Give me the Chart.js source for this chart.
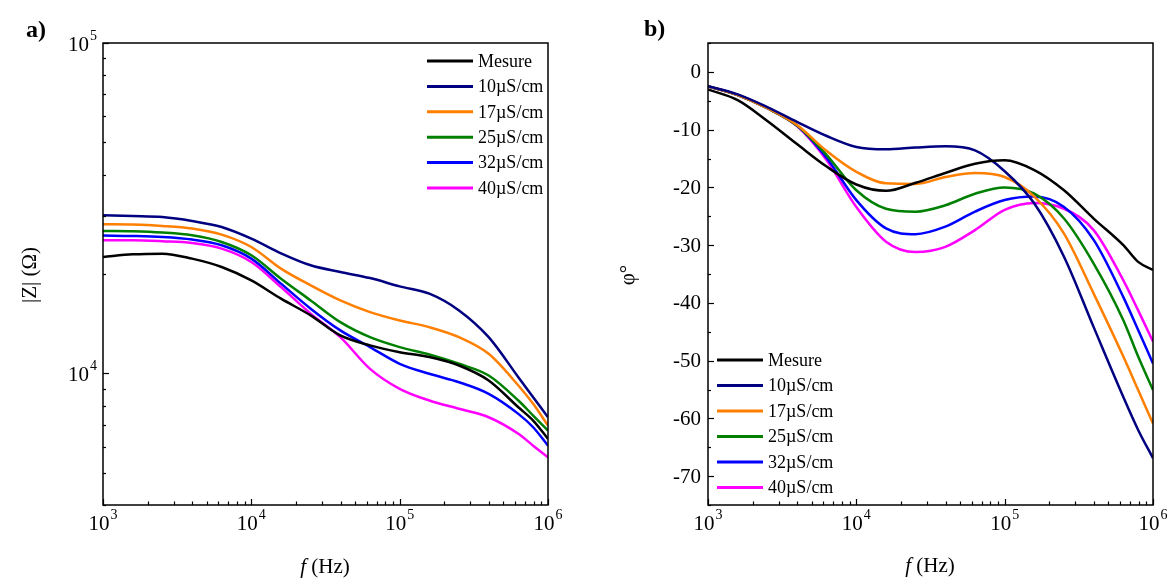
<!DOCTYPE html>
<html><head><meta charset="utf-8">
<script src="https://cdn.jsdelivr.net/npm/chart.js@4/dist/chart.umd.min.js"></script>
<style>
html,body{margin:0;padding:0;background:#fff;}
#wrap{position:relative;width:1168px;height:580px;background:#fff;}
canvas{position:absolute;top:0;}
</style></head><body>
<div id="wrap">
<canvas id="c1" width="584" height="580" style="left:0"></canvas>
<canvas id="c2" width="584" height="580" style="left:584px"></canvas>
</div>
<script>
// ---- data ----
const freq = [1000,1585,2512,3981,6310,10000,15850,25120,39810,63100,100000,158500,251200,398100,631000,794300,1000000];
const seriesLabels = ['Mesure','10µS/cm','17µS/cm','25µS/cm','32µS/cm','40µS/cm'];
const seriesColors = ['#000000','#000080','#ff7f00','#008000','#0000ff','#ff00ff'];

const zMesure = [22510,22940,23050,22260,21000,19130,16840,14990,13040,12160,11600,11210,10570,9524,7903,7204,6340];
const z10 = [30110,29960,29750,28940,27750,25590,23100,21250,20280,19440,18350,17440,15520,12880,9745,8476,7371];
const z17 = [28290,28230,27950,27450,26320,24140,20760,18480,16640,15340,14470,13810,12880,11470,9197,8094,6957];
const z25 = [26990,26930,26690,26190,25000,22790,19360,16640,14300,12880,12020,11420,10700,9861,8284,7459,6721];
const z32 = [26150,26070,25880,25420,24430,22260,18700,15710,13500,12020,10700,9979,9410,8679,7548,6875,6048];
const z40 = [25290,25290,25120,24820,23870,21750,18260,15170,12880,10330,8988,8284,7818,7371,6568,6048,5577];

const pMesure = [-3.05,-4.9,-8.5,-12.5,-16.4,-19.5,-20.6,-19.2,-17.5,-15.9,-15.3,-17.0,-20.5,-25.4,-30.0,-32.9,-34.3];
const p10 = [-2.48,-3.9,-6.1,-8.66,-11.1,-13.0,-13.4,-13.1,-12.9,-13.6,-17.2,-22.8,-32.0,-44.2,-56.3,-62.0,-66.9];
const p17 = [-2.48,-4.0,-6.3,-9.2,-13.7,-17.3,-19.3,-19.4,-18.2,-17.5,-18.2,-21.6,-28.0,-38.4,-49.3,-55.1,-60.9];
const p25 = [-2.48,-4.0,-6.3,-9.3,-14.4,-20.5,-23.7,-24.2,-23.1,-21.1,-20.0,-21.1,-25.4,-33.2,-43.0,-49.3,-55.1];
const p32 = [-2.48,-4.0,-6.3,-9.3,-14.9,-22.2,-27.1,-28.1,-26.8,-24.2,-22.2,-21.6,-23.4,-29.1,-39.0,-44.7,-50.5];
const p40 = [-2.48,-4.0,-6.3,-9.4,-15.3,-23.4,-29.4,-31.2,-30.3,-27.4,-23.9,-22.7,-23.7,-27.4,-36.1,-41.3,-46.7];

const xTickValues = [1e3,1e4,1e5,1e6];
const zTickValues = [1e4,1e5];
const phaseTickValues = [0,-10,-20,-30,-40,-50,-60,-70];
const phaseMinorStep = 5;

const FONT = '"Liberation Serif","DejaVu Serif",serif';

function mkDatasets(arrs){
  return arrs.map((arr,i)=>({
    label: seriesLabels[i],
    data: arr.map((v,j)=>({x:freq[j], y:v})),
    borderColor: seriesColors[i],
    backgroundColor: seriesColors[i],
    borderWidth: 2.5,
    pointRadius: 0,
    fill:false,
    cubicInterpolationMode:'monotone'
  }));
}

function drawPow(ctx, exp, x, y, align){
  ctx.font = '21px ' + FONT;
  const wb = ctx.measureText('10').width;
  ctx.font = '14px ' + FONT;
  const ws = ctx.measureText(String(exp)).width;
  const total = wb + ws + 1;
  let sx = align === 'center' ? x - total/2 : x - total;
  ctx.textAlign = 'left'; ctx.textBaseline = 'middle';
  ctx.font = '21px ' + FONT;
  ctx.fillText('10', sx, y);
  ctx.font = '14px ' + FONT;
  ctx.fillText(String(exp), sx + wb + 1, y - 9);
}

const deco = {
  id:'deco',
  afterDraw(chart, args, o){
    const ctx = chart.ctx, a = chart.chartArea, xs = chart.scales.x, ys = chart.scales.y;
    ctx.save();
    ctx.fillStyle = '#000'; ctx.strokeStyle = '#000';
    // x ticks (log)
    ctx.lineWidth = 1.2;
    for (let d = 3; d <= 6; d++){
      for (let m = 1; m <= 9; m++){
        const v = m * Math.pow(10,d);
        if (v < xs.min || v > xs.max) continue;
        const px = Math.round(xs.getPixelForValue(v)) + 0.5;
        const len = m === 1 ? 6 : 3.5;
        ctx.beginPath(); ctx.moveTo(px, a.bottom); ctx.lineTo(px, a.bottom - len); ctx.stroke();
      }
    }
    xTickValues.forEach(v=>{
      drawPow(ctx, Math.round(Math.log10(v)), xs.getPixelForValue(v), 524, 'center');
    });
    // y ticks
    if (o.logY){
      for (let d = 3; d <= 5; d++){
        for (let m = 1; m <= 9; m++){
          const v = m * Math.pow(10,d);
          if (v < ys.min || v > ys.max) continue;
          const py = Math.round(ys.getPixelForValue(v)) + 0.5;
          const len = m === 1 ? 6 : 3;
          ctx.beginPath(); ctx.moveTo(a.left, py); ctx.lineTo(a.left + len, py); ctx.stroke();
        }
      }
      zTickValues.forEach(v=>{
        drawPow(ctx, Math.round(Math.log10(v)), a.left - 6, ys.getPixelForValue(v) + 2, 'right');
      });
    } else {
      for (let v = ys.max; v >= ys.min; v -= phaseMinorStep){
        const py = Math.round(ys.getPixelForValue(v)) + 0.5;
        const major = phaseTickValues.includes(v);
        ctx.beginPath(); ctx.moveTo(a.left, py); ctx.lineTo(a.left + (major ? 6 : 3), py); ctx.stroke();
      }
      ctx.font = '21px ' + FONT; ctx.textAlign = 'right'; ctx.textBaseline = 'middle';
      phaseTickValues.forEach(v=>{
        ctx.fillText(String(v), a.left - 7, ys.getPixelForValue(v) + 1);
      });
    }
    // frame
    ctx.lineWidth = 1.5;
    ctx.strokeRect(a.left, a.top, a.right - a.left, a.bottom - a.top);
    // axis titles
    ctx.textBaseline = 'middle';
    // x title: italic f + (Hz)
    ctx.font = 'italic 21px ' + FONT;
    const wf = ctx.measureText('f').width;
    ctx.font = '21px ' + FONT;
    const wr = ctx.measureText(' (Hz)').width;
    let sx = o.xTitleX - (wf + wr)/2;
    ctx.textAlign = 'left';
    ctx.font = 'italic 21px ' + FONT; ctx.fillText('f', sx, o.xTitleY);
    ctx.font = '21px ' + FONT; ctx.fillText(' (Hz)', sx + wf, o.xTitleY);
    // y title
    ctx.save();
    ctx.translate(o.yTitleX, o.yTitleY); ctx.rotate(-Math.PI/2);
    ctx.textAlign = 'center'; ctx.font = '21px ' + FONT;
    ctx.fillText(o.yTitle, 0, 0);
    ctx.restore();
    // panel label
    ctx.font = 'bold 24px ' + FONT; ctx.textAlign = 'left';
    ctx.fillText(o.panel, o.panelX, o.panelY);
    // legend
    const L = o.legend;
    chart.data.datasets.forEach((ds,i)=>{
      const y = L.y0 + i * L.dy;
      ctx.strokeStyle = ds.borderColor; ctx.lineWidth = 3;
      ctx.beginPath(); ctx.moveTo(L.x0, y); ctx.lineTo(L.x1, y); ctx.stroke();
      ctx.fillStyle = '#000'; ctx.font = '18px ' + FONT; ctx.textAlign = 'left'; ctx.textBaseline = 'middle';
      ctx.fillText(ds.label, L.tx, y + 1);
    });
    ctx.restore();
  }
};

function baseOptions(padL, padR, yScale, decoOpts){
  return {
    responsive:false, animation:false, devicePixelRatio:1,
    layout:{padding:{left:padL, right:padR, top:43, bottom:75}},
    plugins:{legend:{display:false}, tooltip:{enabled:false}, deco:decoOpts},
    scales:{
      x:{type:'logarithmic', min:1000, max:1000000, display:false},
      y:Object.assign({display:false}, yScale)
    }
  };
}

new Chart(document.getElementById('c1'), {
  type:'line',
  data:{datasets: mkDatasets([zMesure,z10,z17,z25,z32,z40])},
  options: baseOptions(103, 36, {type:'logarithmic', min:4000, max:100000}, {
    logY:true, xTitleX:325, xTitleY:567, yTitle:'|Z| (Ω)', yTitleX:30, yTitleY:275,
    panel:'a)', panelX:26, panelY:31,
    legend:{x0:427, x1:473, tx:478, y0:61, dy:25.4}
  }),
  plugins:[deco]
});

new Chart(document.getElementById('c2'), {
  type:'line',
  data:{datasets: mkDatasets([pMesure,p10,p17,p25,p32,p40])},
  options: baseOptions(124, 15, {type:'linear', min:-75, max:5}, {
    logY:false, xTitleX:346, xTitleY:566, yTitle:'φ°', yTitleX:44, yTitleY:275,
    panel:'b)', panelX:60, panelY:30,
    legend:{x0:133, x1:179, tx:184, y0:360, dy:25.5}
  }),
  plugins:[deco]
});
</script>
</body></html>
